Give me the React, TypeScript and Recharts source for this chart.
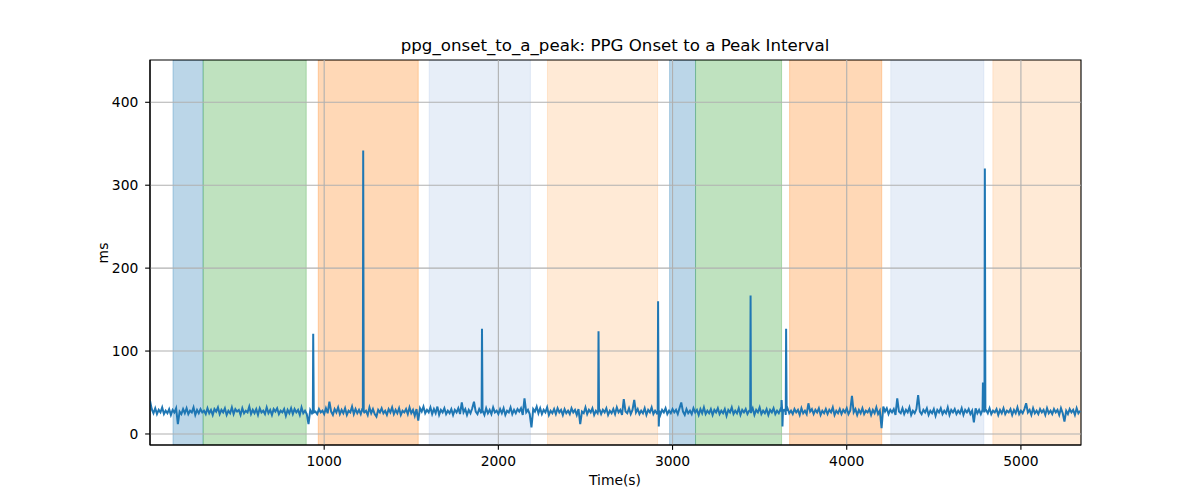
import React from 'react';
import { LineChart, Line, XAxis, YAxis, ReferenceArea, ReferenceLine } from 'recharts';

// Baseline samples, one every 10 s starting at t = 0
const SAMPLE_STEP = 10;
const baseline: number[] = [
  40, 30, 25, 31, 24, 29, 26, 32, 24, 28, 25, 30, 23, 29, 26, 31, 12, 27, 24, 30,
  25, 31, 24, 28, 26, 32, 23, 29, 25, 30, 26, 28, 24, 31, 25, 29, 23, 30, 27, 32,
  24, 29, 26, 31, 23, 28, 25, 32, 24, 30, 27, 29, 23, 31, 25, 28, 26, 33, 24, 29,
  25, 30, 23, 31, 26, 28, 24, 32, 25, 29, 23, 30, 27, 31, 24, 28, 26, 30, 22, 29,
  25, 31, 24, 30, 26, 29, 23, 32, 25, 28, 24, 12, 29, 25, 31, 27, 24, 30, 26, 28,
  24, 31, 25, 39, 27, 23, 30, 26, 32, 24, 29, 25, 31, 23, 28, 26, 33, 24, 30, 25,
  29, 24, 31, 26, 28, 23, 32, 25, 30, 24, 21, 29, 26, 31, 25, 28, 23, 30, 26, 32,
  24, 29, 25, 31, 23, 28, 26, 30, 24, 32, 25, 29, 22, 30, 16, 31, 27, 33, 25, 29,
  26, 32, 24, 30, 25, 33, 23, 29, 26, 31, 24, 28, 25, 30, 23, 29, 26, 31, 24, 38,
  26, 30, 23, 29, 25, 31, 39, 27, 24, 30, 26, 28, 23, 31, 25, 29, 24, 32, 26, 28,
  24, 30, 25, 31, 23, 28, 26, 32, 24, 29, 25, 30, 27, 31, 23, 43, 26, 29, 24, 8,
  30, 27, 33, 25, 31, 24, 29, 26, 32, 23, 28, 25, 30, 24, 31, 26, 29, 23, 30, 25,
  28, 24, 31, 26, 29, 23, 30, 12, 27, 25, 32, 24, 29, 26, 31, 23, 28, 25, 30, 24,
  29, 26, 31, 23, 28, 25, 30, 24, 32, 26, 29, 23, 42, 27, 25, 31, 24, 29, 41, 26,
  30, 24, 28, 25, 31, 23, 29, 26, 32, 24, 28, 25, 30, 23, 29, 26, 31, 24, 28, 25,
  30, 26, 29, 24, 31, 38, 27, 23, 30, 25, 28, 24, 31, 26, 29, 23, 30, 25, 32, 24,
  28, 25, 30, 23, 29, 26, 31, 24, 28, 25, 30, 22, 29, 26, 32, 24, 28, 25, 31, 23,
  29, 26, 30, 24, 28, 25, 31, 23, 29, 26, 32, 24, 28, 25, 30, 23, 29, 26, 31, 24,
  28, 25, 30, 26, 29, 23, 31, 25, 28, 24, 30, 26, 29, 23, 31, 25, 28, 24, 37, 27,
  30, 24, 29, 26, 31, 23, 28, 25, 30, 24, 29, 26, 32, 23, 28, 25, 30, 24, 29, 26,
  31, 24, 28, 46, 26, 30, 23, 29, 25, 31, 24, 28, 26, 30, 23, 29, 25, 32, 24, 28,
  7, 33, 27, 31, 24, 29, 26, 30, 23, 43, 27, 25, 31, 24, 29, 26, 32, 23, 28, 25,
  30, 47, 27, 24, 29, 26, 31, 23, 28, 25, 30, 22, 29, 26, 31, 24, 28, 25, 32, 23,
  29, 26, 30, 24, 28, 25, 31, 23, 29, 26, 30, 24, 28, 14, 31, 25, 29, 24, 30, 26,
  29, 25, 31, 24, 28, 26, 30, 23, 29, 25, 31, 24, 28, 26, 30, 23, 29, 25, 32, 24,
  28, 25, 30, 37, 26, 29, 23, 31, 25, 28, 24, 30, 26, 29, 23, 31, 25, 28, 24, 30,
  26, 29, 23, 31, 25, 15, 28, 24, 30, 26, 29, 23, 31, 25, 28,
];

// Spike events: [time (s), value (ms)]
const spikes: [number, number][] = [
  [935, 27], [937, 121], [941, 26],
  [1222, 28], [1224, 342], [1227, 27],
  [1904, 27], [1906, 127], [1909, 28],
  [2573, 28], [2575, 124], [2578, 27],
  [2915, 27], [2917, 160], [2921, 9], [2924, 28],
  [3446, 28], [3448, 167], [3451, 27],
  [3624, 27], [3626, 41], [3631, 9], [3634, 28],
  [3648, 27], [3652, 127], [3655, 28],
  [4778, 28], [4782, 62], [4786, 30], [4791, 28], [4793, 320], [4796, 29],
];

// Shaded segments: [start, end, colour]
const segments: [number, number, string][] = [
  [132, 305, '#1f77b4'],
  [305, 897, '#2ca02c'],
  [966, 1540, '#ff7f0e'],
  [1603, 2184, '#aec7e8'],
  [2282, 2914, '#ffbb78'],
  [2983, 3132, '#1f77b4'],
  [3132, 3626, '#2ca02c'],
  [3672, 4201, '#ff7f0e'],
  [4253, 4787, '#aec7e8'],
  [4839, 5345, '#ffbb78'],
];

const xTicks = [1000, 2000, 3000, 4000, 5000];
const yTicks = [0, 100, 200, 300, 400];
const X_DOMAIN: [number, number] = [0, 5345];
const Y_DOMAIN: [number, number] = [-13.3, 451];

const title = 'ppg_onset_to_a_peak: PPG Onset to a Peak Interval';
const xLabel = 'Time(s)';
const yLabel = 'ms';

const data = [
  ...baseline.map((v, i) => ({ t: i * SAMPLE_STEP, v })),
  ...spikes.map(([t, v]) => ({ t, v })),
].sort((a, b) => a.t - b.t);

const FONT = '"DejaVu Sans", sans-serif';
const tickStyle = { fontFamily: FONT, fontSize: 13.89, fill: '#000' };

export default function App() {
  return (
    <div style={{ position: 'absolute', left: 0, top: 0, width: 1200, height: 500, background: '#fff' }}>
      <LineChart
        width={1200}
        height={500}
        data={data}
        margin={{ top: 60, right: 119, bottom: 25, left: 90 }}
      >
        <XAxis
          dataKey="t"
          type="number"
          domain={X_DOMAIN}
          ticks={xTicks}
          allowDataOverflow
          height={30}
          tickSize={4.86}
          tickMargin={6}
          tick={tickStyle}
          tickLine={{ stroke: '#000', strokeWidth: 1.11 }}
          axisLine={{ stroke: '#000', strokeWidth: 1.11 }}
        />
        <YAxis
          type="number"
          domain={Y_DOMAIN}
          ticks={yTicks}
          allowDataOverflow
          width={60}
          tickSize={4.86}
          tickMargin={6.8}
          tick={tickStyle}
          tickLine={{ stroke: '#000', strokeWidth: 1.11 }}
          axisLine={{ stroke: '#000', strokeWidth: 1.11 }}
        />
        {segments.map(([a, b, c], i) => (
          <ReferenceArea
            key={'seg' + i}
            x1={a}
            x2={b}
            y1={Y_DOMAIN[0]}
            y2={Y_DOMAIN[1]}
            fill={c}
            fillOpacity={0.3}
            stroke={c}
            strokeOpacity={0.3}
            strokeWidth={1}
            ifOverflow="hidden"
          />
        ))}
        {xTicks.map((t) => (
          <ReferenceLine key={'gx' + t} x={t} stroke="#b0b0b0" strokeWidth={1.11} />
        ))}
        {yTicks.map((t) => (
          <ReferenceLine key={'gy' + t} y={t} stroke="#b0b0b0" strokeWidth={1.11} />
        ))}
        <Line
          dataKey="v"
          type="linear"
          stroke="#1f77b4"
          strokeWidth={2}
          dot={false}
          activeDot={false}
          isAnimationActive={false}
        />
        <ReferenceArea
          x1={X_DOMAIN[0]}
          x2={X_DOMAIN[1]}
          y1={Y_DOMAIN[0]}
          y2={Y_DOMAIN[1]}
          fill="none"
          stroke="#000"
          strokeWidth={1.11}
        />
      </LineChart>
      <svg
        width={1200}
        height={500}
        style={{ position: 'absolute', left: 0, top: 0, pointerEvents: 'none' }}
      >
        <text x={615} y={51} textAnchor="middle" fontFamily={FONT} fontSize={16.67} fill="#000">
          {title}
        </text>
        <text x={615} y={485} textAnchor="middle" fontFamily={FONT} fontSize={13.89} fill="#000">
          {xLabel}
        </text>
        <text
          transform="translate(107.5, 253) rotate(-90)"
          textAnchor="middle"
          fontFamily={FONT}
          fontSize={13.89}
          fill="#000"
        >
          {yLabel}
        </text>
      </svg>
    </div>
  );
}
